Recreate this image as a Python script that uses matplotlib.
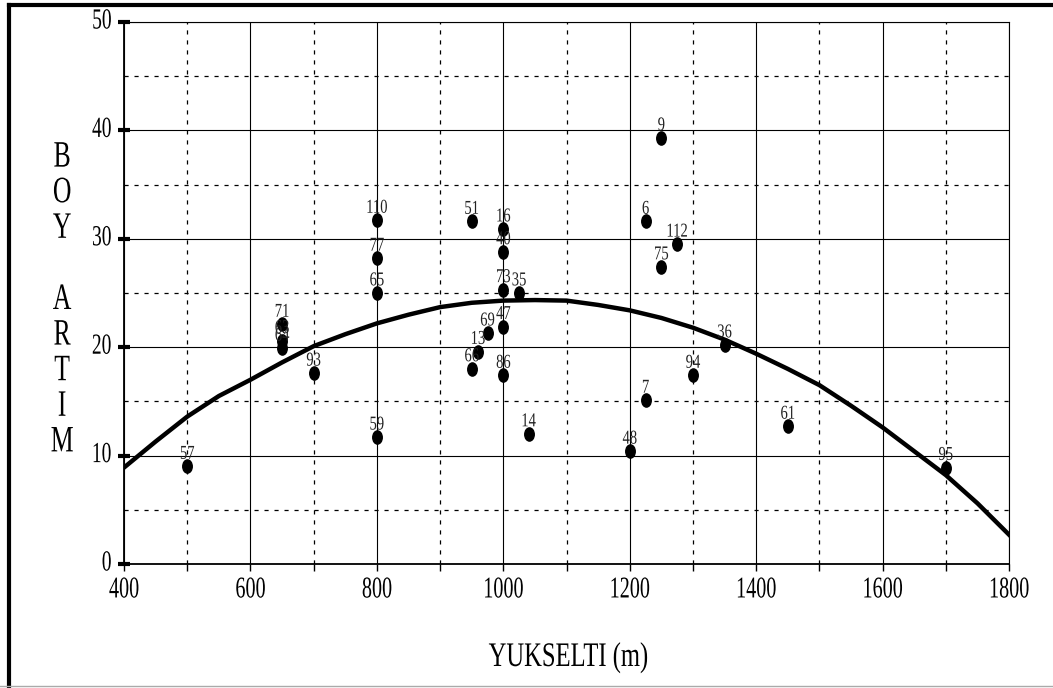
import numpy as np
import matplotlib
matplotlib.use('Agg')
import matplotlib.pyplot as plt
from matplotlib.patheffects import AbstractPathEffect
from matplotlib.transforms import Affine2D
from matplotlib.path import Path
from matplotlib.lines import Line2D

plt.rcParams['font.family'] = 'Liberation Serif'

# data
plot_ids = ['57', '71', '63', '64', '93', '110', '77', '65', '59', '51',
            '16', '40', '73', '35', '47', '69', '13', '66', '86', '14',
            '9', '6', '112', '75', '36', '94', '7', '48', '61', '95']
yukselti = [500, 650, 650, 650, 700, 800, 800, 800, 800, 950,
            1000, 1000, 1000, 1025, 1000, 975, 960, 950, 1000, 1040,
            1250, 1225, 1275, 1250, 1350, 1300, 1225, 1200, 1450, 1700]
boy_artim = [9.0, 22.1, 20.6, 19.9, 17.6, 31.7, 28.2, 25.0, 11.7, 31.6,
             30.9, 28.8, 25.3, 25.0, 21.9, 21.3, 19.6, 18.0, 17.4, 12.0,
             39.3, 31.6, 29.5, 27.4, 20.2, 17.4, 15.1, 10.4, 12.7, 8.9]

curve_x = [400, 450, 500, 550, 600, 650, 700, 750, 800, 850, 900, 950,
           1000, 1050, 1100, 1150, 1200, 1250, 1300, 1350, 1400, 1450,
           1500, 1550, 1600, 1650, 1700, 1750, 1800]
curve_y = [8.9, 11.3, 13.6, 15.5, 17.0, 18.6, 20.1, 21.2, 22.2, 23.0, 23.7, 24.1,
           24.3, 24.35, 24.3, 23.9, 23.4, 22.7, 21.8, 20.7, 19.4, 18.0,
           16.5, 14.6, 12.6, 10.4, 8.2, 5.6, 2.7]


class Tall(AbstractPathEffect):
    """draw glyphs stretched vertically (the scan is squashed sideways)"""
    def __init__(self, sy=1.45):
        super().__init__()
        self.sy = sy

    def draw_path(self, renderer, gc, tpath, affine, rgbFace=None):
        renderer.draw_path(gc, tpath, Affine2D().scale(1, self.sy) + affine, rgbFace)


fig = plt.figure(figsize=(10.53, 6.88), dpi=100)
ax = fig.add_axes([0.1178, 0.1802, 0.8405, 0.7878])

ax.set_xlim(400, 1800)
ax.set_ylim(0, 50)
ax.set_xticks(np.arange(400, 1801, 200))
ax.set_xticks(np.arange(500, 1800, 200), minor=True)
ax.set_yticks(np.arange(0, 51, 10))
ax.set_yticks(np.arange(5, 50, 10), minor=True)

ax.set_axisbelow(True)
ax.grid(which='major', color='k', lw=0.8, ls='-')
ax.grid(which='minor', color='k', lw=0.9, ls=(0, (3.3, 4.7)))

ax.tick_params(axis='x', which='both', direction='out', length=5, width=1,
               labelsize=14.5, pad=9)
ax.tick_params(axis='y', which='major', direction='inout', length=8, width=3,
               labelsize=14, pad=5)
ax.tick_params(axis='y', which='minor', length=0)
for lab in ax.get_xticklabels() + ax.get_yticklabels():
    lab.set_path_effects([Tall(1.5)])

for s in ['left', 'bottom']:
    ax.spines[s].set_linewidth(1.3)
for s in ['top', 'right']:
    ax.spines[s].set_linewidth(0.8)

ax.plot(curve_x, curve_y, 'k-', lw=3.2)

dot = Path.unit_circle().transformed(Affine2D().scale(0.72, 1))
ax.plot(yukselti, boy_artim, ls='none', marker=dot, ms=9.5, color='k', zorder=4)
for pid, xv, yv in zip(plot_ids, yukselti, boy_artim):
    ax.annotate(pid, (xv, yv), xytext=(0, 5.5), textcoords='offset points',
                ha='center', va='baseline', fontsize=10.5, color='#222222',
                path_effects=[Tall(1.35)], zorder=5)

fig.text(0.059, 0.5596, 'B\nO\nY\n\nA\nR\nT\nI\nM', ha='center', va='center',
         fontsize=18.5, linespacing=1.8, path_effects=[Tall(1.45)])
fig.text(0.540, 0.032, 'YUKSELTI (m)', ha='center', va='baseline',
         fontsize=17.7, path_effects=[Tall(1.4)])

# page frame
fig.add_artist(Line2D([0.0081, 0.0081], [0.0, 0.9927], transform=fig.transFigure,
                      color='k', lw=3))
fig.add_artist(Line2D([0.0081, 1.0], [0.9927, 0.9927], transform=fig.transFigure,
                      color='k', lw=3))
fig.add_artist(Line2D([0.0, 1.0], [0.0022, 0.0022], transform=fig.transFigure,
                      color='#aaaaaa', lw=1))

fig.savefig('out.png', dpi=100)
